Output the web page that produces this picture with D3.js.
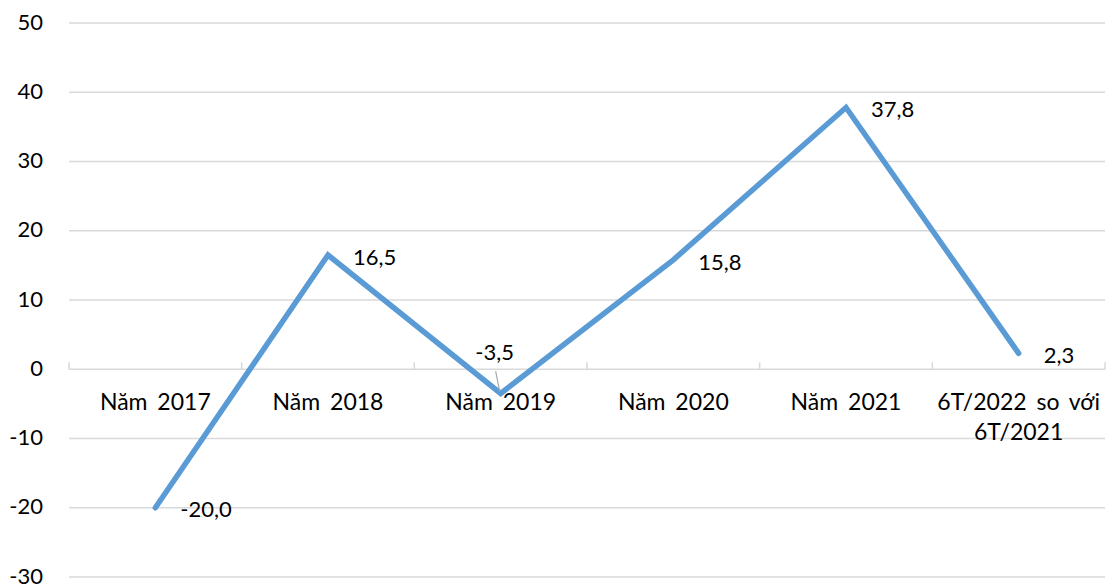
<!DOCTYPE html>
<html><head><meta charset="utf-8">
<script src="https://cdn.jsdelivr.net/npm/d3@7"></script>
<style>body{margin:0;background:#fff}text{font-family:Lato,"Open Sans",sans-serif;fill:#000}</style>
</head><body>
<svg id="c" width="1108" height="587"></svg>
<script>
const categories = ["Năm 2017","Năm 2018","Năm 2019","Năm 2020","Năm 2021","6T/2022 so với\n6T/2021"];
const values = [-20.0, 16.5, -3.5, 15.8, 37.8, 2.3];
const valueLabels = ["-20,0","16,5","-3,5","15,8","37,8","2,3"];
const yTicks = [-30,-20,-10,0,10,20,30,40,50];

(function(){
const svg = d3.select("#c");
const mL = 69, mR = 1105, mT = 23, mB = 577;
const x = d3.scaleBand().domain(categories).range([mL, mR]);
const y = d3.scaleLinear().domain([-30, 50]).range([mB, mT]);
const fs = 22;

svg.append("g").selectAll("line").data(yTicks).join("line")
  .attr("x1", mL).attr("x2", mR)
  .attr("y1", d => y(d)).attr("y2", d => y(d))
  .attr("stroke", "#D9D9D9").attr("stroke-width", 1.5);

svg.append("g").selectAll("text").data(yTicks).join("text")
  .attr("x", 43).attr("y", d => y(d)).attr("dy", "0.3em")
  .attr("text-anchor", "end").attr("font-size", fs).text(d => d);

const bounds = categories.map(c => x(c)).concat([mR]);
svg.append("g").selectAll("line").data(bounds).join("line")
  .attr("x1", d => d).attr("x2", d => d)
  .attr("y1", y(0) - 7).attr("y2", y(0))
  .attr("stroke", "#D9D9D9").attr("stroke-width", 1.5);

const cl = svg.append("g").selectAll("text").data(categories).join("text")
  .attr("x", d => x(d) + x.bandwidth() / 2).attr("y", 410)
  .attr("text-anchor", "middle").attr("font-size", 23).attr("word-spacing", 4);
cl.each(function(d) {
  const lines = d.split("\n");
  d3.select(this).selectAll("tspan").data(lines).join("tspan")
    .attr("x", x(d) + x.bandwidth() / 2).attr("dy", (l, i) => i ? 30 : 0).text(l => l);
});

const cx = (d, i) => x(categories[i]) + x.bandwidth() / 2;
svg.append("path").datum(values)
  .attr("d", d3.line().x((d, i) => cx(d, i)).y(d => y(d)))
  .attr("fill", "none").attr("stroke", "#5B9BD5").attr("stroke-width", 5.5)
  .attr("stroke-linecap", "round").attr("stroke-linejoin", "miter");

svg.append("line")
  .attr("x1", cx(null, 2) - 5).attr("y1", y(0) + 2)
  .attr("x2", cx(null, 2) - 1).attr("y2", y(values[2]) - 2)
  .attr("stroke", "#A6A6A6").attr("stroke-width", 1.2);

svg.append("g").selectAll("text").data(values).join("text")
  .attr("x", (d, i) => i === 2 ? cx(d, i) - 6 : cx(d, i) + 25)
  .attr("y", (d, i) => i === 2 ? y(0) - 17 : y(d) + 2)
  .attr("dy", "0.35em")
  .attr("text-anchor", (d, i) => i === 2 ? "middle" : "start")
  .attr("font-size", fs).text((d, i) => valueLabels[i]);
})();
</script>
</body></html>
